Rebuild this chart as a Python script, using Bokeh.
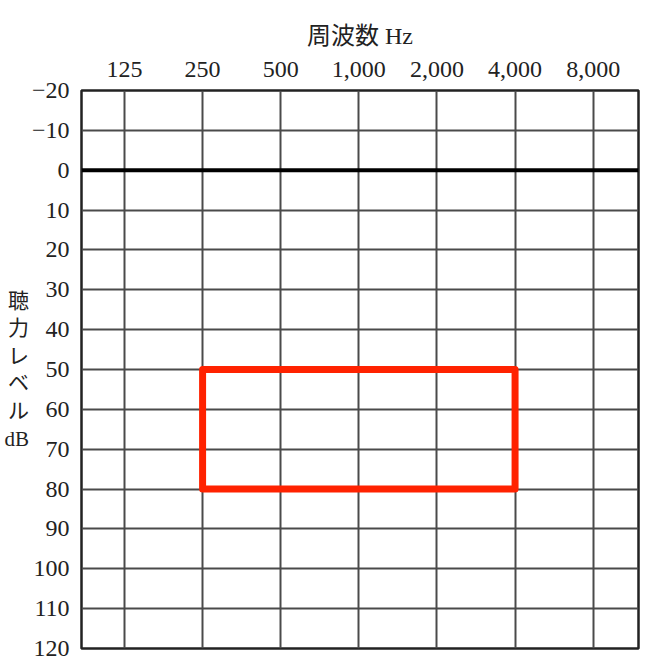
import math
from bokeh.plotting import figure
from bokeh.models import Range1d, FixedTicker
from bokeh.embed import file_html
from bokeh.resources import INLINE

# ---- data ----
freqs = [125, 250, 500, 1000, 2000, 4000, 8000]
freq_labels = ["125", "250", "500", "1,000", "2,000", "4,000", "8,000"]
db_ticks = [-20, -10, 0, 10, 20, 30, 40, 50, 60, 70, 80, 90, 100, 110, 120]
db_labels = ["−20", "−10", "0", "10", "20", "30", "40", "50", "60", "70", "80", "90", "100", "110", "120"]
band_freq = [250, 4000]
band_db = [50, 80]
x_title = "周波数 Hz"
y_title_chars = ["聴", "力", "レ", "ベ", "ル", "dB"]

def oct_pos(f):
    return math.log2(f / freqs[0])

xs = [oct_pos(f) for f in freqs]
x_lo = xs[0] - 0.55
x_hi = xs[-1] + 0.58

SERIF = "Liberation Serif, Noto Sans CJK JP"

p = figure(output_backend="svg", toolbar_location=None,
           frame_width=557, frame_height=558,
           min_border_left=81, min_border_right=14,
           min_border_top=90, min_border_bottom=14,
           x_axis_location="above",
           x_range=Range1d(x_lo, x_hi),
           y_range=Range1d(db_ticks[-1], db_ticks[0]))
p.background_fill_color = "white"
p.border_fill_color = "white"
p.outline_line_color = "#222222"
p.outline_line_width = 2.5

# x axis (top)
xa = p.xaxis[0]
xa.ticker = FixedTicker(ticks=[i for i in range(len(freqs))])
xa.major_label_overrides = {i: lab for i, lab in enumerate(freq_labels)}
xa.axis_line_color = None
xa.major_tick_line_color = None
xa.minor_tick_line_color = None
xa.major_label_text_font = SERIF
xa.major_label_text_font_size = "24px"
xa.major_label_text_color = "#222222"
xa.major_label_standoff = 8
xa.axis_label = x_title
xa.axis_label_text_font = SERIF
xa.axis_label_text_font_size = "24px"
xa.axis_label_text_font_style = "normal"
xa.axis_label_text_color = "#222222"
xa.axis_label_standoff = 10

# y axis (left)
ya = p.yaxis[0]
ya.ticker = FixedTicker(ticks=db_ticks)
ya.major_label_overrides = {t: lab for t, lab in zip(db_ticks, db_labels)}
ya.axis_line_color = None
ya.major_tick_line_color = None
ya.minor_tick_line_color = None
ya.major_label_text_font = SERIF
ya.major_label_text_font_size = "24px"
ya.major_label_text_color = "#222222"
ya.major_label_standoff = 6
ya.axis_label = "\n".join(y_title_chars)
ya.axis_label_orientation = "horizontal"
ya.axis_label_text_font = SERIF
ya.axis_label_text_font_size = "21px"
ya.axis_label_text_font_style = "normal"
ya.axis_label_text_color = "#222222"
ya.axis_label_text_line_height = 1.15
ya.axis_label_text_align = "center"
ya.axis_label_standoff = 0

# grids
p.xgrid.grid_line_color = "#4a4a4a"
p.xgrid.grid_line_width = 2
p.ygrid.grid_line_color = "#4a4a4a"
p.ygrid.grid_line_width = 2

# 0 dB reference line
p.line(x=[x_lo, x_hi], y=[0, 0], line_color="black", line_width=4)

# red band
p.quad(left=[oct_pos(band_freq[0])], right=[oct_pos(band_freq[1])],
       top=[band_db[0]], bottom=[band_db[1]],
       fill_color=None, line_color="#ff2200", line_width=7, line_join="round")

open("out.html", "w").write(file_html(p, INLINE))
